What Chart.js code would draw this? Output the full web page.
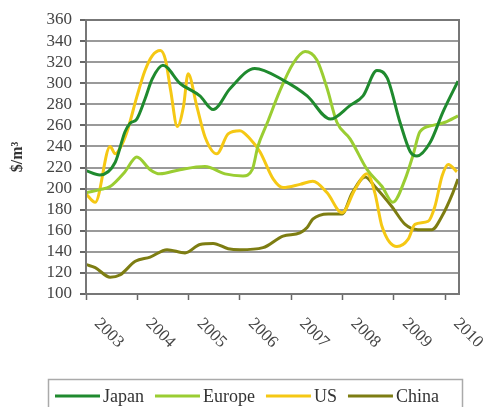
<!DOCTYPE html>
<html>
<head>
<meta charset="utf-8">
<script src="https://cdn.jsdelivr.net/npm/chart.js@4.4.1/dist/chart.umd.min.js"></script>
<style>
    html, body { margin: 0; padding: 0; background: #fff; }
    #wrap { width: 488px; height: 407px; }
</style>
</head>
<body>
<div id="wrap"><canvas id="priceChart" width="488" height="407"></canvas></div>
<script>
// tick labels
const years = [2003, 2004, 2005, 2006, 2007, 2008, 2009, 2010];
const yMin = 100, yMax = 360, yStep = 20;

// series (time in years, value in $/m3)
const japanT = [2003.00, 2003.27, 2003.57, 2003.76, 2003.86, 2003.99, 2004.15, 2004.29, 2004.50, 2004.83, 2005.22, 2005.48, 2005.81, 2006.29, 2006.84, 2007.31, 2007.76, 2008.15, 2008.40, 2008.67, 2008.87, 2009.12, 2009.32, 2009.45, 2009.71, 2009.96, 2010.25];
const japanV = [217, 213, 225, 254, 262, 266, 285, 304, 317, 300, 288, 275, 295, 314, 303, 288, 266, 279, 288, 312, 305, 263, 235, 231, 244, 273, 302];

const europeT = [2003.00, 2003.27, 2003.47, 2003.76, 2003.99, 2004.25, 2004.44, 2004.83, 2005.32, 2005.71, 2006.06, 2006.24, 2006.35, 2006.53, 2006.78, 2007.04, 2007.27, 2007.50, 2007.70, 2007.89, 2008.15, 2008.48, 2008.77, 2008.98, 2009.22, 2009.37, 2009.51, 2009.76, 2010.00, 2010.25];
const europeV = [196, 199, 202, 216, 230, 218, 214, 218, 221, 214, 212, 218, 240, 262, 293, 319, 330, 322, 295, 263, 247, 218, 202, 187, 209, 231, 254, 260, 263, 269];

const usT = [2003.00, 2003.18, 2003.47, 2003.57, 2003.66, 2003.80, 2003.99, 2004.15, 2004.29, 2004.45, 2004.55, 2004.65, 2004.78, 2004.90, 2004.99, 2005.16, 2005.32, 2005.55, 2005.77, 2006.00, 2006.20, 2006.39, 2006.65, 2006.84, 2007.17, 2007.42, 2007.70, 2007.99, 2008.24, 2008.48, 2008.63, 2008.77, 2009.06, 2009.28, 2009.41, 2009.67, 2009.80, 2009.94, 2010.06, 2010.23];
const usV = [195, 187, 240, 233, 238, 254, 287, 312, 326, 331, 322, 293, 259, 278, 309, 278, 249, 233, 252, 255, 247, 235, 209, 201, 204, 207, 196, 177, 199, 214, 196, 164, 145, 152, 166, 169, 183, 212, 223, 216];

const chinaT = [2003.00, 2003.18, 2003.47, 2003.66, 2003.96, 2004.25, 2004.58, 2004.93, 2005.22, 2005.48, 2005.77, 2006.00, 2006.45, 2006.84, 2007.17, 2007.31, 2007.42, 2007.72, 2007.99, 2008.19, 2008.44, 2008.63, 2008.96, 2009.22, 2009.47, 2009.74, 2009.94, 2010.15, 2010.25];
const chinaV = [128, 125, 116, 118, 131, 135, 142, 139, 147, 148, 143, 142, 144, 155, 158, 163, 171, 176, 176, 196, 211, 202, 183, 166, 161, 161, 174, 196, 209];

const seriesNames = ['Japan', 'Europe', 'US', 'China'];
const seriesColors = ['#1f8a2e', '#9acd32', '#f5c814', '#7d7d12'];

const toPoints = (ts, vs) => ts.map((t, i) => ({ x: t, y: vs[i] }));
const seriesData = [
    toPoints(japanT, japanV),
    toPoints(europeT, europeV),
    toPoints(usT, usV),
    toPoints(chinaT, chinaV)
];

const serif = '"Liberation Serif", "DejaVu Serif", serif';

// box round the plot area (top and right sides)
const framePlugin = {
    id: 'frame',
    afterDraw(chart) {
        const { ctx, chartArea: a } = chart;
        ctx.save();
        ctx.strokeStyle = '#777';
        ctx.lineWidth = 2;
        ctx.strokeRect(a.left, a.top, a.right - a.left, a.bottom - a.top);
        ctx.restore();
    }
};

// x labels slant down to the right, starting at the tick
const slantLabels = {
    id: 'slantLabels',
    afterDraw(chart) {
        const { ctx } = chart;
        const xs = chart.scales.x;
        ctx.save();
        ctx.fillStyle = '#444';
        ctx.font = '17px ' + serif;
        ctx.textAlign = 'left';
        ctx.textBaseline = 'middle';
        xs.ticks.forEach(t => {
            const px = xs.getPixelForValue(t.value);
            ctx.save();
            ctx.translate(px + 11, xs.bottom - xs.height + 27);
            ctx.rotate(Math.PI / 4);
            ctx.fillText(String(t.value), 0, 0);
            ctx.restore();
        });
        ctx.restore();
    }
};

// legend inside a box below the chart
const boxLegend = {
    id: 'boxLegend',
    afterDraw(chart) {
        const { ctx } = chart;
        ctx.save();
        ctx.strokeStyle = '#aaa';
        ctx.lineWidth = 1.5;
        ctx.strokeRect(48.5, 379.5, 414, 40);
        ctx.font = '18px ' + serif;
        ctx.textBaseline = 'alphabetic';
        ctx.fillStyle = '#333';
        let x = 55;
        chart.data.datasets.forEach(ds => {
            ctx.strokeStyle = ds.borderColor;
            ctx.lineWidth = 3;
            ctx.beginPath();
            ctx.moveTo(x, 396);
            ctx.lineTo(x + 45, 396);
            ctx.stroke();
            x += 48;
            ctx.fillText(ds.label, x, 402);
            x += ctx.measureText(ds.label).width + 11;
        });
        ctx.restore();
    }
};

new Chart(document.getElementById('priceChart'), {
    type: 'line',
    data: {
        datasets: seriesNames.map((name, i) => ({
            label: name,
            data: seriesData[i],
            borderColor: seriesColors[i],
            backgroundColor: seriesColors[i],
            borderWidth: 3,
            pointRadius: 0,
            fill: false,
            cubicInterpolationMode: 'monotone'
        }))
    },
    options: {
        responsive: false,
        devicePixelRatio: 1,
        animation: false,
        layout: { padding: { left: 0, top: 20, right: 29, bottom: 0 } },
        plugins: {
            legend: { display: false },
            tooltip: { enabled: false }
        },
        scales: {
            x: {
                type: 'linear',
                min: 2003,
                max: 2010.27,
                afterBuildTicks: s => { s.ticks = years.map(v => ({ value: v })); },
                afterFit: s => { s.height = 113; },
                ticks: { display: false },
                grid: { drawOnChartArea: false, drawTicks: true, tickLength: 6, tickColor: '#666', tickWidth: 1.5 },
                border: { color: '#666', width: 2 }
            },
            y: {
                min: yMin,
                max: yMax,
                afterFit: s => { s.width = 86; },
                ticks: {
                    stepSize: yStep,
                    autoSkip: false,
                    color: '#444',
                    padding: 8,
                    font: { family: serif, size: 17 }
                },
                grid: { color: '#9a9a9a', lineWidth: 2, tickLength: 6, tickColor: '#666' },
                border: { color: '#666', width: 2 },
                title: {
                    display: true,
                    text: '$/m\u00b3',
                    color: '#333',
                    font: { family: serif, size: 16, weight: 'bold' },
                    padding: { top: 8, bottom: 0 }
                }
            }
        }
    },
    plugins: [framePlugin, slantLabels, boxLegend]
});
</script>
</body>
</html>
